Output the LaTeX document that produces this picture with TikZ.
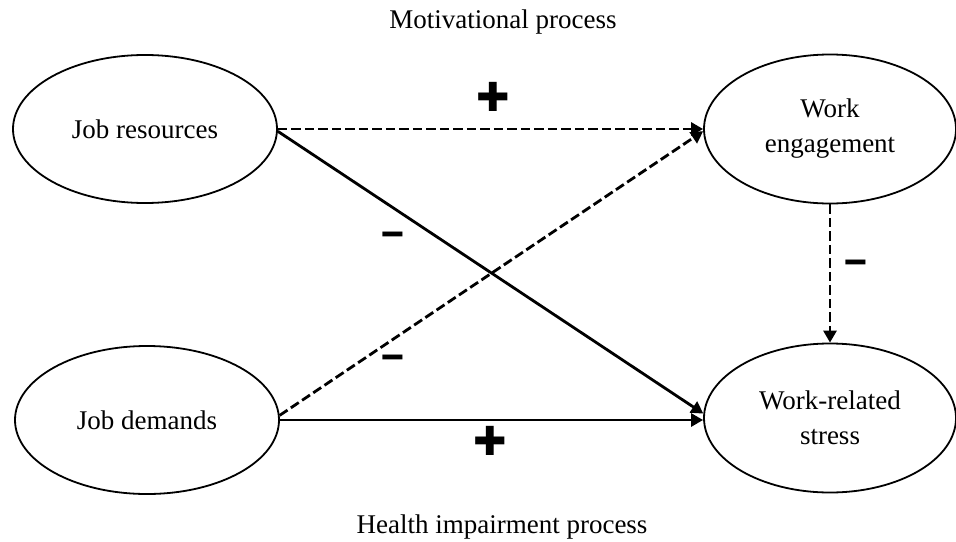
\documentclass[tikz,border=0pt]{standalone}
\usepackage{fontspec}
\setmainfont{Liberation Serif}
\newfontfamily\symfont{DejaVu Sans}
\usetikzlibrary{shapes.geometric,arrows.meta}
\tikzset{
  construct/.style={ellipse, draw=black, line width=1.8pt, fill=white, inner sep=0pt,
    minimum width=264pt, minimum height=148pt, align=center,
    font=\fontsize{27}{35}\selectfont},
  rconstruct/.style={construct, minimum width=252pt, minimum height=149pt},
  solidarrow/.style={line width=2.8pt, -{Triangle[length=12pt,width=13pt]}},
  dasharrow/.style={solidarrow, dash pattern=on 9.5pt off 4pt},
  plussign/.style={font=\symfont\fontsize{40}{40}\selectfont, inner sep=0pt},
  minussign/.style={font=\symfont\bfseries\fontsize{32}{32}\selectfont, inner sep=0pt, yscale=1.3},
  heading/.style={font=\fontsize{27}{30}\selectfont, inner sep=0pt}
}
\begin{document}
\begin{tikzpicture}[x=1pt,y=-1pt]
\useasboundingbox (0,0) rectangle (956,541);
\node[construct] (jr) at (145,129) {Job resources};
\node[construct] (jd) at (147,420) {Job demands};
\node[rconstruct] (we) at (830,129) {Work\\engagement};
\node[rconstruct] (ws) at (830,418) {Work-related\\stress};
\node[heading] (t1) at (503,22) {Motivational process};
\node[heading] (t2) at (502,527) {Health impairment process};
\draw[dasharrow] (jr.east) -- (we.west);
\draw[solidarrow] (jr.-1.5) -- (ws.178);
\draw[dasharrow] (jd.2) -- (we.181);
\draw[solidarrow] (jd.east) -- (jd.east -| ws.west);
\draw[dasharrow] (we.south) -- (ws.north);
\node[plussign] (p1) at (493,97) {✚};
\node[plussign] (p2) at (490,441) {✚};
\node[minussign] (m1) at (393,240) {−};
\node[minussign] (m2) at (393,363) {−};
\node[minussign] (m3) at (856,268) {−};
\end{tikzpicture}
\end{document}
